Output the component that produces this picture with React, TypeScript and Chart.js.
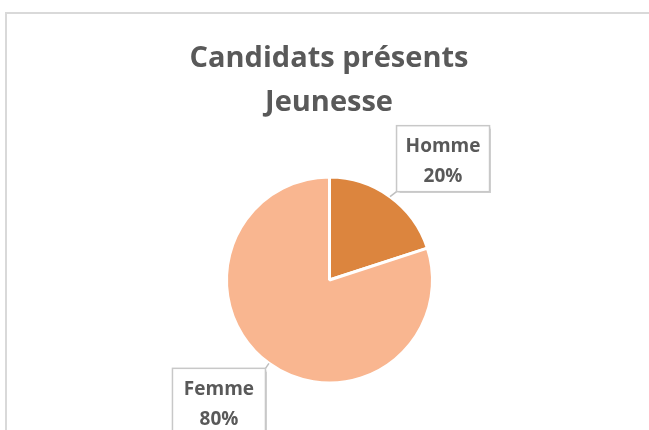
import React, { useEffect, useRef } from "react";
import { Chart, registerables } from "chart.js";

Chart.register(...registerables);

const titleLines = ["Candidats présents", "Jeunesse"];
const categories = ["Homme", "Femme"];
const values = [20, 80];
const percentLabels = ["20%", "80%"];
const sliceColors = ["#DC853E", "#F9B690"];

// callout box placement per slice (offset of box centre from the slice's edge point)
const calloutOffsets = [
  { dx: 53, dy: -38, ax: -1, ay: 1 },
  { dx: -50, dy: 38, ax: 1, ay: -1 },
];

const FONT = "'Open Sans', Lato, sans-serif";

const framePlugin = {
  id: "frame",
  beforeDraw(chart: any) {
    const ctx = chart.ctx;
    ctx.save();
    ctx.fillStyle = "#FFFFFF";
    ctx.fillRect(0, 0, chart.width, chart.height);
    ctx.strokeStyle = "#D9D9D9";
    ctx.lineWidth = 2;
    ctx.beginPath();
    ctx.moveTo(6, chart.height + 5);
    ctx.lineTo(6, 13);
    ctx.lineTo(chart.width + 5, 13);
    ctx.stroke();
    ctx.fillStyle = "#595959";
    ctx.font = "bold 29px " + FONT;
    ctx.textAlign = "center";
    ctx.textBaseline = "middle";
    titleLines.forEach((t, i) => ctx.fillText(t, 329, 59 + i * 44));
    ctx.restore();
  },
  afterDraw(chart: any) {
    const ctx = chart.ctx;
    const meta = chart.getDatasetMeta(0);
    meta.data.forEach((arc: any, i: number) => {
      const { x, y, startAngle, endAngle, outerRadius } = arc.getProps(
        ["x", "y", "startAngle", "endAngle", "outerRadius"],
        true
      );
      const mid = (startAngle + endAngle) / 2;
      const ex = x + Math.cos(mid) * outerRadius;
      const ey = y + Math.sin(mid) * outerRadius;
      const o = calloutOffsets[i];
      const w = 93;
      const h = 66;
      const cx = ex + o.dx;
      const cy = ey + o.dy;
      const bx = cx - w / 2;
      const by = cy - h / 2;
      ctx.save();
      // leader line
      ctx.strokeStyle = "#BFBFBF";
      ctx.lineWidth = 1.5;
      ctx.beginPath();
      ctx.moveTo(ex, ey);
      ctx.lineTo(cx + (o.ax * w) / 2, cy + (o.ay * h) / 2);
      ctx.stroke();
      // box
      ctx.fillStyle = "#FFFFFF";
      ctx.shadowColor = "rgba(0,0,0,0.18)";
      ctx.shadowOffsetX = 1.5;
      ctx.shadowOffsetY = 1.5;
      ctx.shadowBlur = 1;
      ctx.fillRect(bx, by, w, h);
      ctx.shadowColor = "transparent";
      ctx.strokeStyle = "#C8C8C8";
      ctx.lineWidth = 1.5;
      ctx.strokeRect(bx, by, w, h);
      ctx.fillStyle = "#595959";
      ctx.font = "bold 19px " + FONT;
      ctx.textAlign = "center";
      ctx.textBaseline = "middle";
      ctx.fillText(categories[i], cx, by + 21);
      ctx.fillText(percentLabels[i], cx, by + 51);
      ctx.restore();
    });
  },
};

export default function App() {
  const ref = useRef<HTMLCanvasElement>(null);
  useEffect(() => {
    if (!ref.current) return;
    const chart = new Chart(ref.current, {
      type: "pie",
      data: {
        labels: categories,
        datasets: [
          {
            data: values,
            backgroundColor: sliceColors,
            borderColor: "#FFFFFF",
            borderWidth: 3,
          },
        ],
      },
      options: {
        animation: false,
        responsive: false,
        maintainAspectRatio: false,
        layout: { padding: { left: 225, right: 215, top: 175, bottom: 45 } },
        plugins: {
          legend: { display: false },
          title: { display: false },
          tooltip: { enabled: false },
        },
      },
      plugins: [framePlugin],
    });
    return () => chart.destroy();
  }, []);
  return (
    <div style={{ position: "absolute", left: 0, top: 0, width: 649, height: 430 }}>
      <canvas ref={ref} width={649} height={430} style={{ width: 649, height: 430 }} />
    </div>
  );
}
